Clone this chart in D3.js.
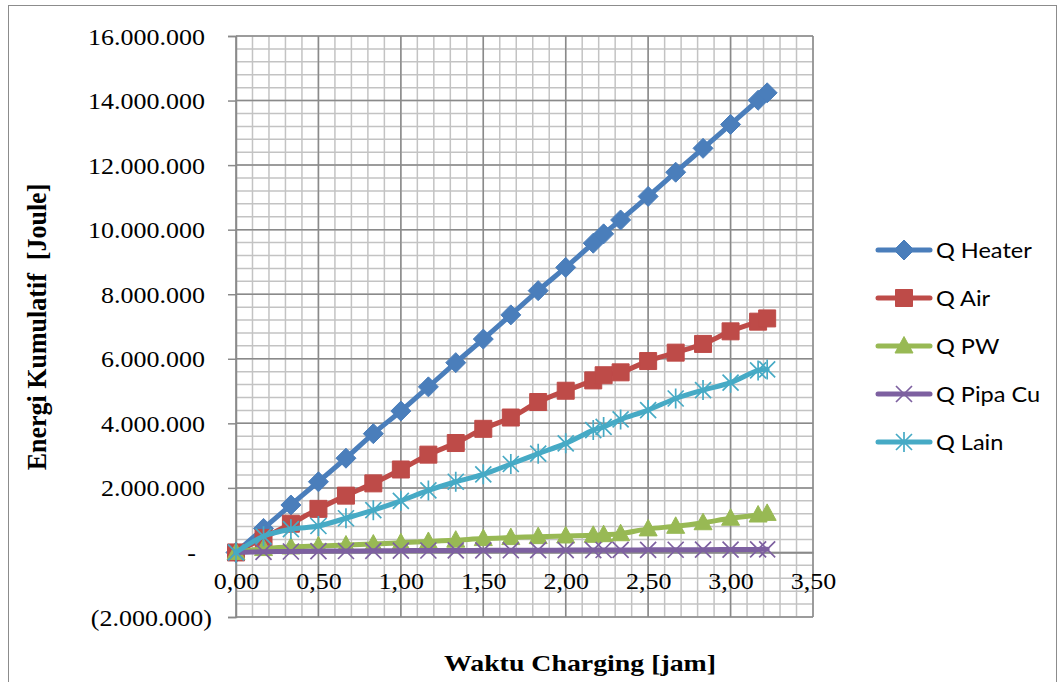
<!DOCTYPE html>
<html><head><meta charset="utf-8">
<script src="https://cdn.jsdelivr.net/npm/d3@7"></script>
<style>
html,body{margin:0;padding:0;background:#fff;}
svg{display:block;}
</style></head>
<body>
<script>
// ---- data ----
const hours = [0, 0.167, 0.333, 0.5, 0.667, 0.833, 1.0, 1.167, 1.333, 1.5, 1.667, 1.833, 2.0, 2.167, 2.23, 2.333, 2.5, 2.667, 2.833, 3.0, 3.167, 3.222];
const qHeater = [0, 745000, 1470000, 2190000, 2920000, 3680000, 4380000, 5130000, 5880000, 6610000, 7360000, 8110000, 8830000, 9580000, 9870000, 10300000, 11030000, 11780000, 12520000, 13260000, 14010000, 14240000];
const qAir = [0, 450000, 890000, 1350000, 1760000, 2140000, 2570000, 3030000, 3390000, 3830000, 4180000, 4660000, 5010000, 5330000, 5490000, 5580000, 5930000, 6190000, 6460000, 6850000, 7150000, 7250000];
const qPW = [0, 120000, 170000, 200000, 230000, 260000, 300000, 340000, 380000, 430000, 460000, 490000, 510000, 530000, 550000, 580000, 730000, 810000, 920000, 1060000, 1160000, 1210000];
const qPipaCu = [0, 20000, 30000, 40000, 45000, 50000, 55000, 60000, 62000, 65000, 68000, 70000, 72000, 74000, 75000, 77000, 80000, 83000, 86000, 90000, 95000, 98000];
const qLain = [0, 500000, 720000, 820000, 1060000, 1310000, 1600000, 1920000, 2190000, 2420000, 2740000, 3060000, 3380000, 3790000, 3890000, 4120000, 4410000, 4770000, 5030000, 5260000, 5640000, 5670000];
const seriesNames = ["Q Heater", "Q Air", "Q PW", "Q Pipa Cu", "Q Lain"];
const seriesValues = [qHeater, qAir, qPW, qPipaCu, qLain];
const yTickValues = [-2000000, 0, 2000000, 4000000, 6000000, 8000000, 10000000, 12000000, 14000000, 16000000];
const yTickLabels = ["(2.000.000)", "-", "2.000.000", "4.000.000", "6.000.000", "8.000.000", "10.000.000", "12.000.000", "14.000.000", "16.000.000"];
const xTickValues = [0, 0.5, 1.0, 1.5, 2.0, 2.5, 3.0, 3.5];
const xTickLabels = ["0,00", "0,50", "1,00", "1,50", "2,00", "2,50", "3,00", "3,50"];
const xTitle = "Waktu Charging [jam]";
const yTitle = "Energi Kumulatif  [Joule]";

// ---- styles ----
const colors = ["#4A7EBB", "#BE4B48", "#98B954", "#7D60A0", "#46AAC5"];
const markers = ["diamond", "square", "triangle", "x", "star"];
const SERIF = "'Liberation Serif', 'Times New Roman', serif";

const W = 1059, H = 682;
const L = 236, R = 813, T = 36, B = 617;

const svg = d3.select("body").append("svg").attr("width", W).attr("height", H);
svg.append("rect").attr("x", 8.5).attr("y", 5.5).attr("width", 1048).attr("height", 690)
  .attr("fill", "#fff").attr("stroke", "#8c8c8c").attr("stroke-width", 1);

const x = d3.scaleLinear().domain([0, 3.5]).range([L, R]);
const y = d3.scaleLinear().domain([-2000000, 16000000]).range([B, T]);

// grid
const g = svg.append("g");
const minorX = d3.range(0, 3.5001, 0.1);
const minorY = d3.range(-2000000, 16000001, 400000);
g.selectAll(".mx").data(minorX).join("line")
  .attr("x1", d => x(d)).attr("x2", d => x(d)).attr("y1", T).attr("y2", B)
  .attr("stroke", "#c3c3c3").attr("stroke-width", 1.5);
g.selectAll(".my").data(minorY).join("line")
  .attr("y1", d => y(d)).attr("y2", d => y(d)).attr("x1", L).attr("x2", R)
  .attr("stroke", "#c3c3c3").attr("stroke-width", 1.5);
g.selectAll(".Mx").data(xTickValues).join("line")
  .attr("x1", d => x(d)).attr("x2", d => x(d)).attr("y1", T).attr("y2", B)
  .attr("stroke", "#8a8a8a").attr("stroke-width", 1.5);
g.selectAll(".My").data(yTickValues).join("line")
  .attr("y1", d => y(d)).attr("y2", d => y(d)).attr("x1", L).attr("x2", R)
  .attr("stroke", "#8a8a8a").attr("stroke-width", 1.5);

// y axis
const TS = 1.13; // tick-label horizontal stretch
const yAxis = svg.append("g").attr("transform", `translate(${L},0)`)
  .call(d3.axisLeft(y).tickValues(yTickValues).tickSize(8).tickPadding(0)
    .tickFormat((d, i) => yTickLabels[i]));
yAxis.select(".domain").attr("stroke", "#8a8a8a").attr("stroke-width", 1.5);
yAxis.selectAll(".tick line").attr("stroke", "#8a8a8a").attr("stroke-width", 1.5);
yAxis.selectAll(".tick text").each(function(d, i) {
  const t = yTickLabels[i];
  const xe = t.startsWith("(") ? -24 : (t === "-" ? -40 : -31);
  d3.select(this).attr("x", 0).attr("dy", null).attr("y", 0)
    .attr("transform", `translate(${xe},8) scale(${TS},1)`);
}).attr("font-family", SERIF).attr("font-size", 23).attr("fill", "#000").attr("text-anchor", "end");

// x axis at y=0
const xAxis = svg.append("g").attr("transform", `translate(0,${y(0)})`)
  .call(d3.axisBottom(x).tickValues(xTickValues).tickSize(0).tickPadding(0)
    .tickFormat((d, i) => xTickLabels[i]));
xAxis.select(".domain").attr("stroke", "#8a8a8a").attr("stroke-width", 1.5);
xAxis.selectAll(".tick text").each(function() {
  d3.select(this).attr("y", 0).attr("dy", null)
    .attr("transform", `translate(0,37) scale(${TS},1)`);
}).attr("font-family", SERIF).attr("font-size", 23).attr("fill", "#000");

// series
const line = d3.line().x(d => x(d[0])).y(d => y(d[1])).curve(d3.curveCatmullRom.alpha(0.5));

function markerPath(type) {
  switch (type) {
    case "diamond": return "M0,-10L10,0L0,10L-10,0Z";
    case "square": return "M-8.5,-8.5H8.5V8.5H-8.5Z";
    case "triangle": return "M0,-9.5L9,7H-9Z";
    case "x": return "M-8,-8L8,8M8,-8L-8,8";
    case "star": return "M-8,-8L8,8M8,-8L-8,8M0,-10V10";
  }
}
function drawMarker(sel, type, color) {
  const filled = type === "diamond" || type === "square" || type === "triangle";
  sel.append("path").attr("d", markerPath(type))
    .attr("fill", filled ? color : "none")
    .attr("stroke", color).attr("stroke-width", filled ? 1 : 1.7);
}

const plot = svg.append("g");
seriesValues.forEach((vals, si) => {
  const pts = hours.map((h, i) => [h, vals[i]]);
  plot.append("path").datum(pts).attr("d", line)
    .attr("fill", "none").attr("stroke", colors[si]).attr("stroke-width", 5)
    .attr("stroke-linejoin", "round").attr("stroke-linecap", "round");
  plot.selectAll(null).data(pts).join("g")
    .attr("transform", d => `translate(${x(d[0])},${y(d[1])})`)
    .each(function() { drawMarker(d3.select(this), markers[si], colors[si]); });
});

// legend
const leg = svg.append("g");
seriesNames.forEach((name, i) => {
  const ly = 250 + i * 48;
  const row = leg.append("g").attr("transform", `translate(878,${ly})`);
  row.append("line").attr("x1", 0).attr("x2", 52).attr("y1", 0).attr("y2", 0)
    .attr("stroke", colors[i]).attr("stroke-width", 5).attr("stroke-linecap", "round");
  drawMarker(row.append("g").attr("transform", "translate(26,0)"), markers[i], colors[i]);
  row.append("text").text(name)
    .attr("transform", `translate(58,8) scale(1.07,1)`)
    .attr("font-family", "Lato, 'Open Sans', sans-serif").attr("font-size", 22).attr("fill", "#000");
});

// titles
svg.append("text").text(xTitle)
  .attr("transform", `translate(580,671) scale(1.16,1)`)
  .attr("text-anchor", "middle").attr("font-family", SERIF)
  .attr("font-weight", "bold").attr("font-size", 24).attr("fill", "#000");
svg.append("text").text(yTitle)
  .attr("transform", `translate(46,327) scale(1.08,1) rotate(-90)`)
  .attr("text-anchor", "middle").attr("font-family", SERIF)
  .attr("font-weight", "bold").attr("font-size", 26).attr("fill", "#000")
  .style("white-space", "pre");
</script>
</body></html>
